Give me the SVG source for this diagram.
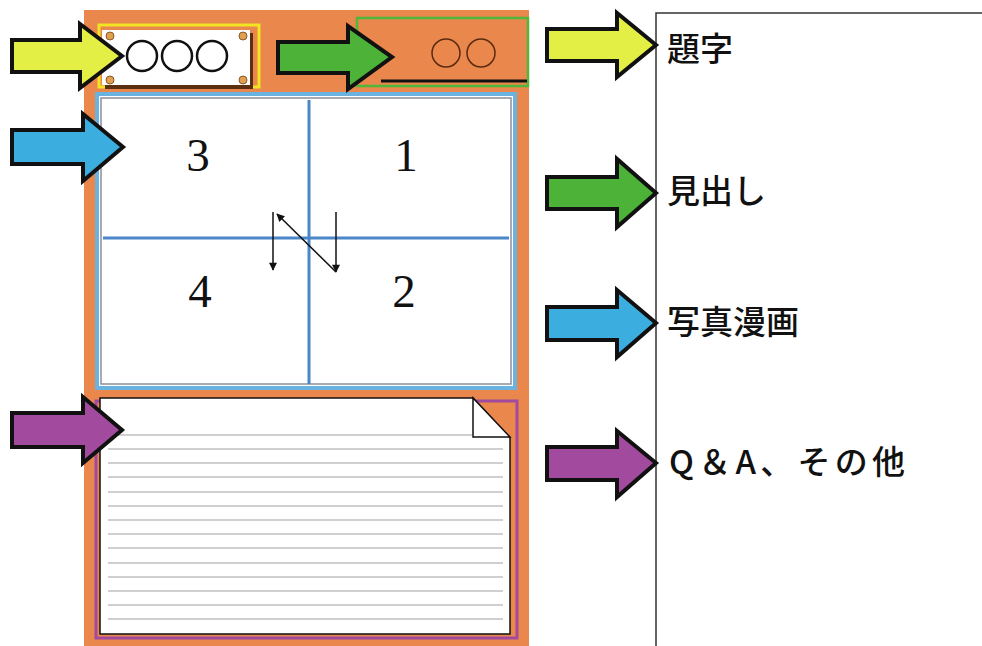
<svg xmlns="http://www.w3.org/2000/svg" width="982" height="646" viewBox="0 0 982 646">
<style>
.arrow{stroke:#111;stroke-width:4;stroke-linejoin:miter}
.y{fill:#e4ef45}.g{fill:#4db338}.b{fill:#3badde}.p{fill:#a24a9e}
.lbl{font-family:"Noto Sans CJK JP","Noto Sans",sans-serif;font-size:33px;font-weight:500;fill:#111}
.num{font-family:"Liberation Serif","DejaVu Serif",serif;font-size:47px;fill:#111;text-anchor:middle}
.grid{stroke:#4a86c8;stroke-width:3}
.rule{stroke:#a0a0a0;stroke-width:1}
.dot{fill:#e0a050;stroke:#8a5a2a;stroke-width:1}
</style>
<defs>
<marker id="ah" viewBox="0 0 10 10" refX="9" refY="5" markerWidth="9" markerHeight="8" markerUnits="userSpaceOnUse" orient="auto">
<path d="M0,0 L10,5 L0,10 Z" fill="#111"/>
</marker>
</defs>
<rect width="982" height="646" fill="#fff"/>
<g id="sheet">
<rect x="84" y="10" width="445" height="636" fill="#e9874c"/>
</g>
<g id="title-box">
<rect x="99" y="25" width="160" height="62" fill="#e9874c" stroke="#f2e423" stroke-width="3"/>
<rect x="105" y="33" width="148" height="56" fill="#5a3010"/>
<rect x="102" y="30" width="148" height="55" fill="#fff"/>
<circle cx="142" cy="56" r="15" fill="none" stroke="#111" stroke-width="2.5"/>
<circle cx="177" cy="56" r="15" fill="none" stroke="#111" stroke-width="2.5"/>
<circle cx="212" cy="56" r="15" fill="none" stroke="#111" stroke-width="2.5"/>
<circle class="dot" cx="110" cy="36" r="4"/>
<circle class="dot" cx="243" cy="36" r="4"/>
<circle class="dot" cx="110" cy="80" r="4"/>
<circle class="dot" cx="243" cy="80" r="4"/>
</g>
<g id="headline-box">
<rect x="357" y="18" width="171" height="68" fill="none" stroke="#4fb83a" stroke-width="2.5"/>
<circle cx="446" cy="53" r="14" fill="none" stroke="#5a2a10" stroke-width="1.5"/>
<circle cx="481" cy="53" r="14" fill="none" stroke="#5a2a10" stroke-width="1.5"/>
<line x1="381" y1="81" x2="527" y2="81" stroke="#111" stroke-width="3"/>
</g>
<g id="photo-area">
<rect x="97" y="94" width="418" height="294" fill="#fff" stroke="#6ab3e0" stroke-width="4"/>
<rect x="101" y="98" width="410" height="286" fill="none" stroke="#8a8f99" stroke-width="1.5"/>
<line class="grid" x1="309" y1="100" x2="309" y2="384"/>
<line class="grid" x1="103" y1="238" x2="509" y2="238"/>
<text class="num" x="198" y="171">3</text>
<text class="num" x="406" y="171">1</text>
<text class="num" x="200" y="307">4</text>
<text class="num" x="404" y="307">2</text>
</g>
<g id="qa-area">
<rect x="96" y="401" width="421" height="237" fill="none" stroke="#a24a9e" stroke-width="3"/>
<path d="M100,398 H473 L510,438 V634 H100 Z" fill="#fff" stroke="#111" stroke-width="1.5"/>
<path d="M473,398 V437 H510 Z" fill="#fff" stroke="#111" stroke-width="1.5"/>
<line class="rule" x1="108" y1="435" x2="472" y2="435"/>
<line class="rule" x1="108" y1="449" x2="503" y2="449"/>
<line class="rule" x1="108" y1="463" x2="503" y2="463"/>
<line class="rule" x1="108" y1="477" x2="503" y2="477"/>
<line class="rule" x1="108" y1="492" x2="503" y2="492"/>
<line class="rule" x1="108" y1="506" x2="503" y2="506"/>
<line class="rule" x1="108" y1="520" x2="503" y2="520"/>
<line class="rule" x1="108" y1="534" x2="503" y2="534"/>
<line class="rule" x1="108" y1="548" x2="503" y2="548"/>
<line class="rule" x1="108" y1="563" x2="503" y2="563"/>
<line class="rule" x1="108" y1="577" x2="503" y2="577"/>
<line class="rule" x1="108" y1="591" x2="503" y2="591"/>
<line class="rule" x1="108" y1="605" x2="503" y2="605"/>
<line class="rule" x1="108" y1="619" x2="503" y2="619"/>
</g>
<g id="legend-panel">
<path d="M983,13 H656 V647" fill="none" stroke="#333" stroke-width="1.5"/>
<text class="lbl" x="667" y="61">題字</text>
<text class="lbl" x="667" y="203">見出し</text>
<text class="lbl" x="667" y="334">写真漫画</text>
<text class="lbl" x="669" y="474" textLength="236" lengthAdjust="spacing">Q＆A、その他</text>
</g>
<g id="connectors">
<line x1="273" y1="212" x2="273" y2="270" stroke="#111" stroke-width="1.5" marker-end="url(#ah)"/>
<line x1="336" y1="212" x2="336" y2="272" stroke="#111" stroke-width="1.5" marker-end="url(#ah)"/>
<line x1="336" y1="272" x2="277" y2="214" stroke="#111" stroke-width="1.5" marker-end="url(#ah)"/>
<path class="arrow y" d="M12,40 H80 V24 L122,56 L80,88 V72 H12 Z"/>
<path class="arrow g" d="M278,42 H348 V26 L392,57 L348,89 V73 H278 Z"/>
<path class="arrow b" d="M12,130 H83 V114 L123,147 L83,181 V164 H12 Z"/>
<path class="arrow p" d="M12,413 H83 V397 L122,430 L83,463 V447 H12 Z"/>
<path class="arrow y" d="M547,29 H617 V13 L656,45 L617,77 V61 H547 Z"/>
<path class="arrow g" d="M547,177 H617 V159 L656,193 L617,227 V209 H547 Z"/>
<path class="arrow b" d="M547,307 H617 V290 L656,323 L617,357 V340 H547 Z"/>
<path class="arrow p" d="M547,447 H617 V431 L656,463 L617,497 V480 H547 Z"/>
</g>
</svg>
